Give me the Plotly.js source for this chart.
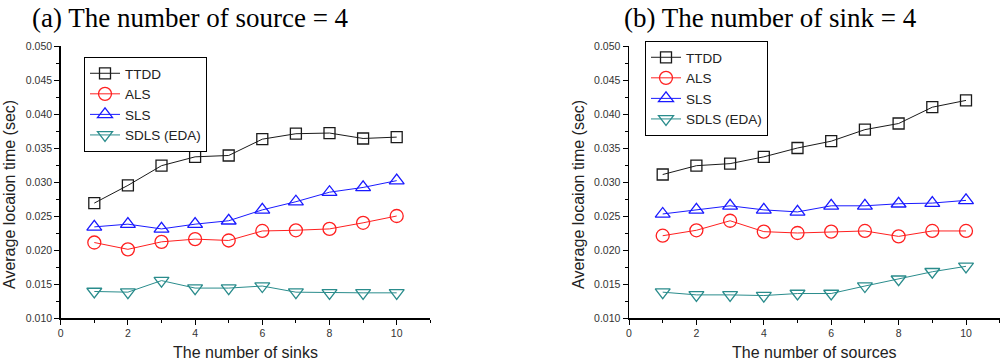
<!DOCTYPE html>
<html>
<head>
<meta charset="utf-8">
<script src="https://cdn.plot.ly/plotly-3.0.1.min.js"></script>
<style>html,body{margin:0;padding:0;background:#fff;}#chart{width:1000px;height:362px;}</style>
</head>
<body>
<div id="chart"></div>
<script>
// Data
const xVals = [1, 2, 3, 4, 5, 6, 7, 8, 9, 10];
const seriesNames = ["TTDD", "ALS", "SLS", "SDLS (EDA)"];
const panelTitles = ["(a) The number of source = 4", "(b) The number of sink = 4"];
const xTitles = ["The number of sinks", "The number of sources"];
const yTitle = "Average locaion time (sec)";

// Panel (a): varying number of sinks
const aTTDD = [0.0269, 0.0295, 0.0324, 0.0337, 0.0339, 0.0363, 0.0371, 0.0372, 0.0364, 0.0366];
const aALS  = [0.0211, 0.0201, 0.0212, 0.0216, 0.0214, 0.0228, 0.0229, 0.0231, 0.0240, 0.0250];
const aSLS  = [0.0234, 0.0238, 0.0231, 0.0238, 0.0243, 0.0259, 0.0271, 0.0285, 0.0292, 0.0302];
const aSDLS = [0.0139, 0.0138, 0.0155, 0.0144, 0.0144, 0.0147, 0.0138, 0.0137, 0.0137, 0.0137];

// Panel (b): varying number of sources
const bTTDD = [0.0311, 0.0324, 0.0327, 0.0337, 0.0350, 0.0360, 0.0377, 0.0386, 0.0410, 0.0420];
const bALS  = [0.0221, 0.0229, 0.0243, 0.0227, 0.0225, 0.0227, 0.0228, 0.0220, 0.0228, 0.0228];
const bSLS  = [0.0253, 0.0259, 0.0265, 0.0259, 0.0256, 0.0265, 0.0265, 0.0268, 0.0269, 0.0273];
const bSDLS = [0.0138, 0.0134, 0.0134, 0.0133, 0.0136, 0.0136, 0.0147, 0.0157, 0.0168, 0.0176];

const colors = ["#1a1a1a", "#ff2020", "#1a1aff", "#2a8c8c"];
const symbols = ["square-open", "circle-open", "triangle-up-open", "triangle-down-open"];
const sizes = [11, 13, 13, 13];

const W = 1000, H = 362;
const mt = 46, mb = 44;
const plotH = H - mt - mb;

function mk(ys, i, xa, ya, leg) {
  return {
    x: xVals, y: ys, name: seriesNames[i], type: "scatter", mode: "lines+markers",
    xaxis: xa, yaxis: ya, legend: leg,
    line: {color: colors[i], width: 1},
    marker: {symbol: symbols[i], size: sizes[i], color: colors[i], line: {color: colors[i], width: 1.3}}
  };
}

const data = [
  mk(aTTDD, 0, "x", "y", "legend"), mk(aALS, 1, "x", "y", "legend"),
  mk(aSLS, 2, "x", "y", "legend"), mk(aSDLS, 3, "x", "y", "legend"),
  mk(bTTDD, 0, "x2", "y2", "legend2"), mk(bALS, 1, "x2", "y2", "legend2"),
  mk(bSLS, 2, "x2", "y2", "legend2"), mk(bSDLS, 3, "x2", "y2", "legend2")
];

const tickFont = {family: "Liberation Sans, Arial, sans-serif", size: 10.5, color: "#333"};
const titleFont = {family: "Liberation Sans, Arial, sans-serif", size: 16, color: "#222"};

function xax(domain, title, anchor) {
  return {
    domain: domain, anchor: anchor, range: [0, 11], tick0: 0, dtick: 2,
    showgrid: false, zeroline: false, showline: true, linecolor: "#000", linewidth: 1.5,
    ticks: "outside", ticklen: 5, tickcolor: "#000", tickwidth: 1,
    minor: {ticks: "outside", dtick: 1, ticklen: 3, tickcolor: "#000", showgrid: false},
    tickfont: tickFont, automargin: false,
    title: {text: title, font: titleFont, standoff: 8}
  };
}
function yax(anchor) {
  return {
    domain: [0, 1], anchor: anchor, range: [0.010, 0.050], tick0: 0.010, dtick: 0.005,
    tickformat: ".3f",
    showgrid: false, zeroline: false, showline: true, linecolor: "#000", linewidth: 1.5,
    ticks: "outside", ticklen: 5, tickcolor: "#000", tickwidth: 1,
    minor: {ticks: "outside", dtick: 0.0025, ticklen: 3, tickcolor: "#000", showgrid: false},
    tickfont: tickFont, automargin: false
  };
}

const xa1 = [60.7 / W, (60.7 + 33.6 * 11) / W];
const xa2 = [629 / W, Math.min(1, (629 + 33.7 * 11) / W)];

function legendBox(pxX, pxY) {
  return {
    x: pxX / W, xanchor: "left", xref: "paper",
    y: 1 + (mt - pxY) / plotH, yanchor: "top", yref: "paper",
    bgcolor: "rgba(255,255,255,1)", bordercolor: "#000", borderwidth: 1,
    font: {family: "Liberation Sans, Arial, sans-serif", size: 13.5, color: "#222"},
    tracegroupgap: 0, itemwidth: 30
  };
}

function py(p) { return 1 + (mt - p) / plotH; }

const layout = {
  width: W, height: H,
  margin: {l: 0, r: 0, t: mt, b: mb, pad: 0},
  paper_bgcolor: "#fff", plot_bgcolor: "#fff",
  showlegend: true,
  xaxis: xax(xa1, xTitles[0], "y"),
  yaxis: yax("x"),
  xaxis2: xax(xa2, xTitles[1], "y2"),
  yaxis2: yax("x2"),
  legend: legendBox(84, 57),
  legend2: legendBox(645, 41),
  annotations: [
    {text: panelTitles[0], xref: "paper", yref: "paper", x: 190 / W, y: py(18),
     xanchor: "center", yanchor: "middle", showarrow: false,
     font: {family: "Liberation Serif, Times New Roman, serif", size: 27, color: "#000"}},
    {text: panelTitles[1], xref: "paper", yref: "paper", x: 770 / W, y: py(18),
     xanchor: "center", yanchor: "middle", showarrow: false,
     font: {family: "Liberation Serif, Times New Roman, serif", size: 27, color: "#000"}},
    {text: yTitle, xref: "paper", yref: "paper", x: 9 / W, y: py(195), textangle: -90,
     xanchor: "center", yanchor: "middle", showarrow: false, font: titleFont},
    {text: yTitle, xref: "paper", yref: "paper", x: 578 / W, y: py(195), textangle: -90,
     xanchor: "center", yanchor: "middle", showarrow: false, font: titleFont}
  ]
};

Plotly.newPlot("chart", data, layout, {staticPlot: true, displayModeBar: false});
</script>
</body>
</html>
